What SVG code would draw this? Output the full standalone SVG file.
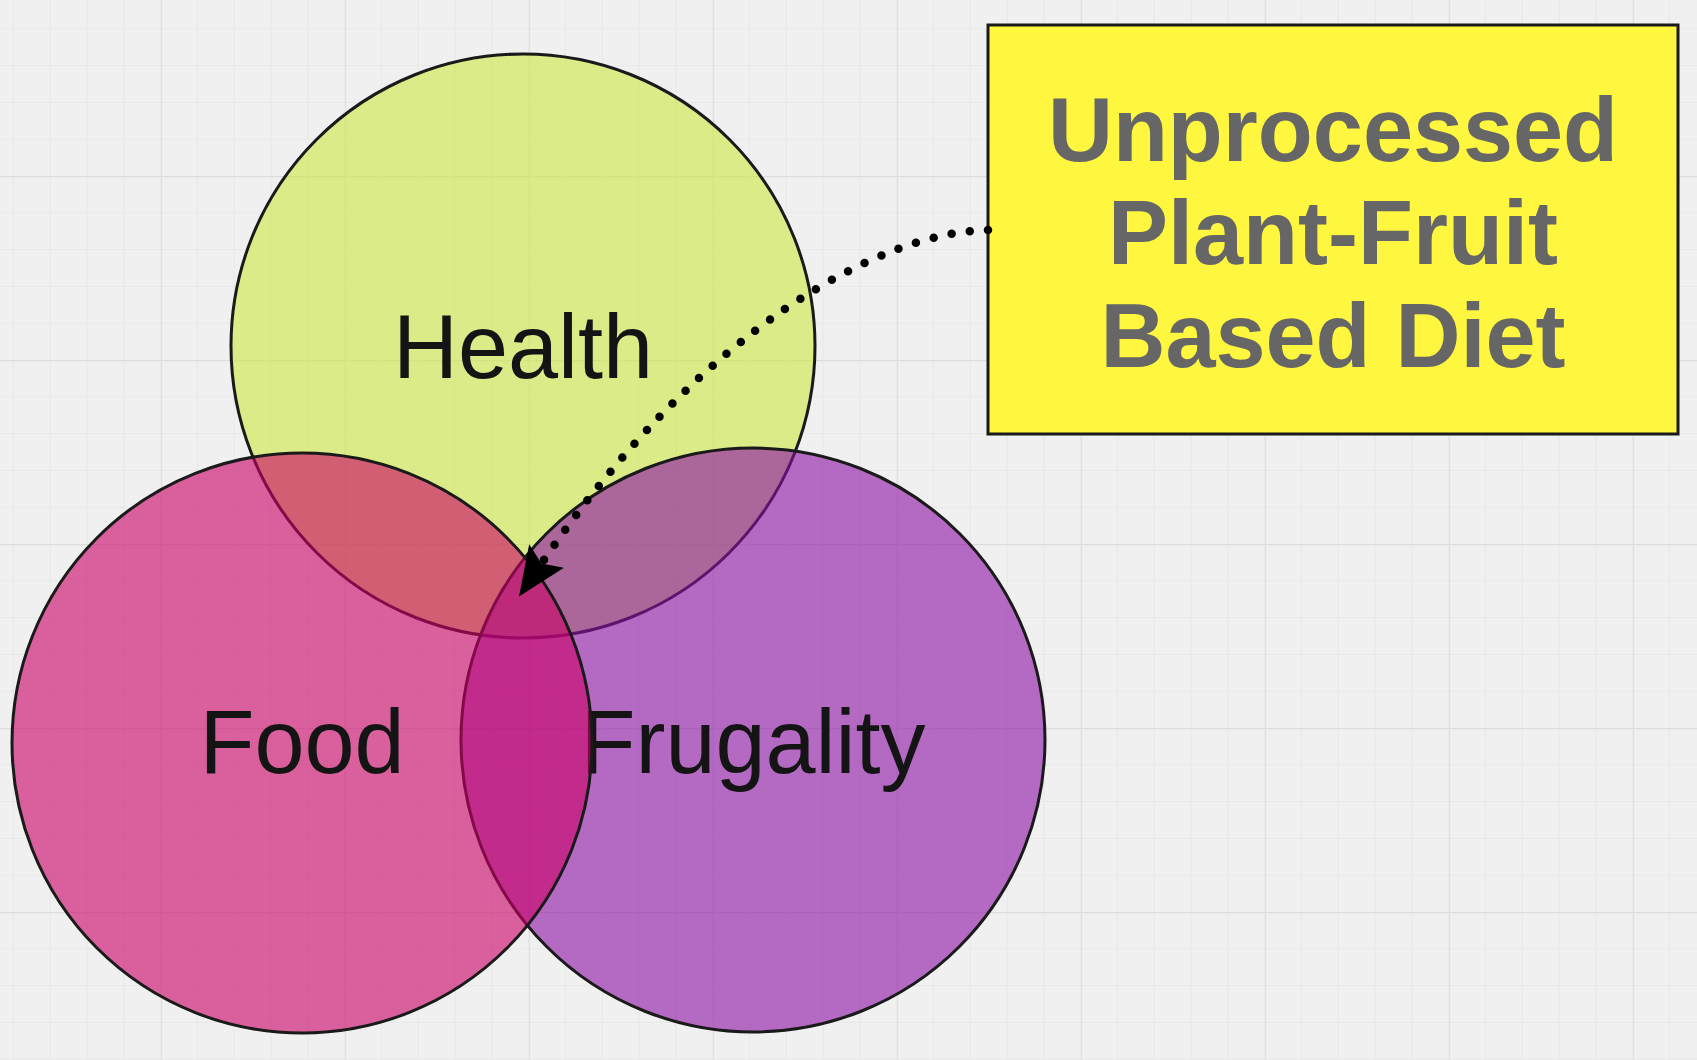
<svg xmlns="http://www.w3.org/2000/svg" width="1697" height="1060" viewBox="0 0 1697 1060">
  <style>
    .circle { stroke: #1a1a1a; stroke-width: 3; fill-opacity: 0.6; }
    .label { font-family: "Liberation Sans", Arial, sans-serif; font-size: 90px; fill: #141414; text-anchor: middle; }
    .boxtext { font-family: "Liberation Sans", Arial, sans-serif; font-size: 90px; font-weight: bold; fill: #666666; text-anchor: middle; }
    .conn { fill: none; stroke: #000000; stroke-width: 8.5; stroke-linecap: round; stroke-dasharray: 0 18.4; }
  </style>
  <defs>
    <pattern id="grid" patternUnits="userSpaceOnUse" x="160.7" y="176" width="184" height="184">
      <rect x="36.3" y="0" width="1" height="184" fill="#e7e7e7"/>
      <rect x="73.1" y="0" width="1" height="184" fill="#e7e7e7"/>
      <rect x="109.9" y="0" width="1" height="184" fill="#e7e7e7"/>
      <rect x="146.7" y="0" width="1" height="184" fill="#e7e7e7"/>
      <rect x="0" y="36.3" width="184" height="1" fill="#e7e7e7"/>
      <rect x="0" y="73.1" width="184" height="1" fill="#e7e7e7"/>
      <rect x="0" y="109.9" width="184" height="1" fill="#e7e7e7"/>
      <rect x="0" y="146.7" width="184" height="1" fill="#e7e7e7"/>
      <rect x="0" y="0" width="1.2" height="184" fill="#dcdcdc"/>
      <rect x="0" y="0" width="184" height="1.2" fill="#dcdcdc"/>
    </pattern>
    <marker id="arrow" markerUnits="userSpaceOnUse" viewBox="0 -22 52 44" markerWidth="52" markerHeight="44" refX="9" refY="0" orient="auto">
      <path d="M0,-21 L49,0 L0,21 L9,0 Z" fill="#000000"/>
    </marker>
  </defs>

  <rect x="0" y="0" width="1697" height="1060" fill="#f0f0f0"/>
  <rect x="0" y="0" width="1697" height="1060" fill="url(#grid)"/>

  <g id="health">
    <circle class="circle" cx="523" cy="346" r="292" fill="#cbe841"/>
    <text class="label" x="523" y="378">Health</text>
  </g>

  <g id="frugality">
    <circle class="circle" cx="753" cy="740" r="292" fill="#8c0fa5"/>
    <text class="label" x="753" y="773">Frugality</text>
  </g>

  <g id="food">
    <circle class="circle" cx="302" cy="743" r="290" fill="#cc0066"/>
    <text class="label" x="302" y="773">Food</text>
  </g>

  <g id="diet">
    <rect x="988" y="25" width="690" height="409" fill="#fff63f" stroke="#1a1a1a" stroke-width="3"/>
    <text class="boxtext" x="1333" y="161">Unprocessed</text>
    <text class="boxtext" x="1333" y="264">Plant-Fruit</text>
    <text class="boxtext" x="1333" y="367">Based Diet</text>
  </g>

  <g id="connectors">
    <path class="conn" d="M988,230 C880,232 700,330 541.5,563.5" marker-end="url(#arrow)"/>
  </g>
</svg>
